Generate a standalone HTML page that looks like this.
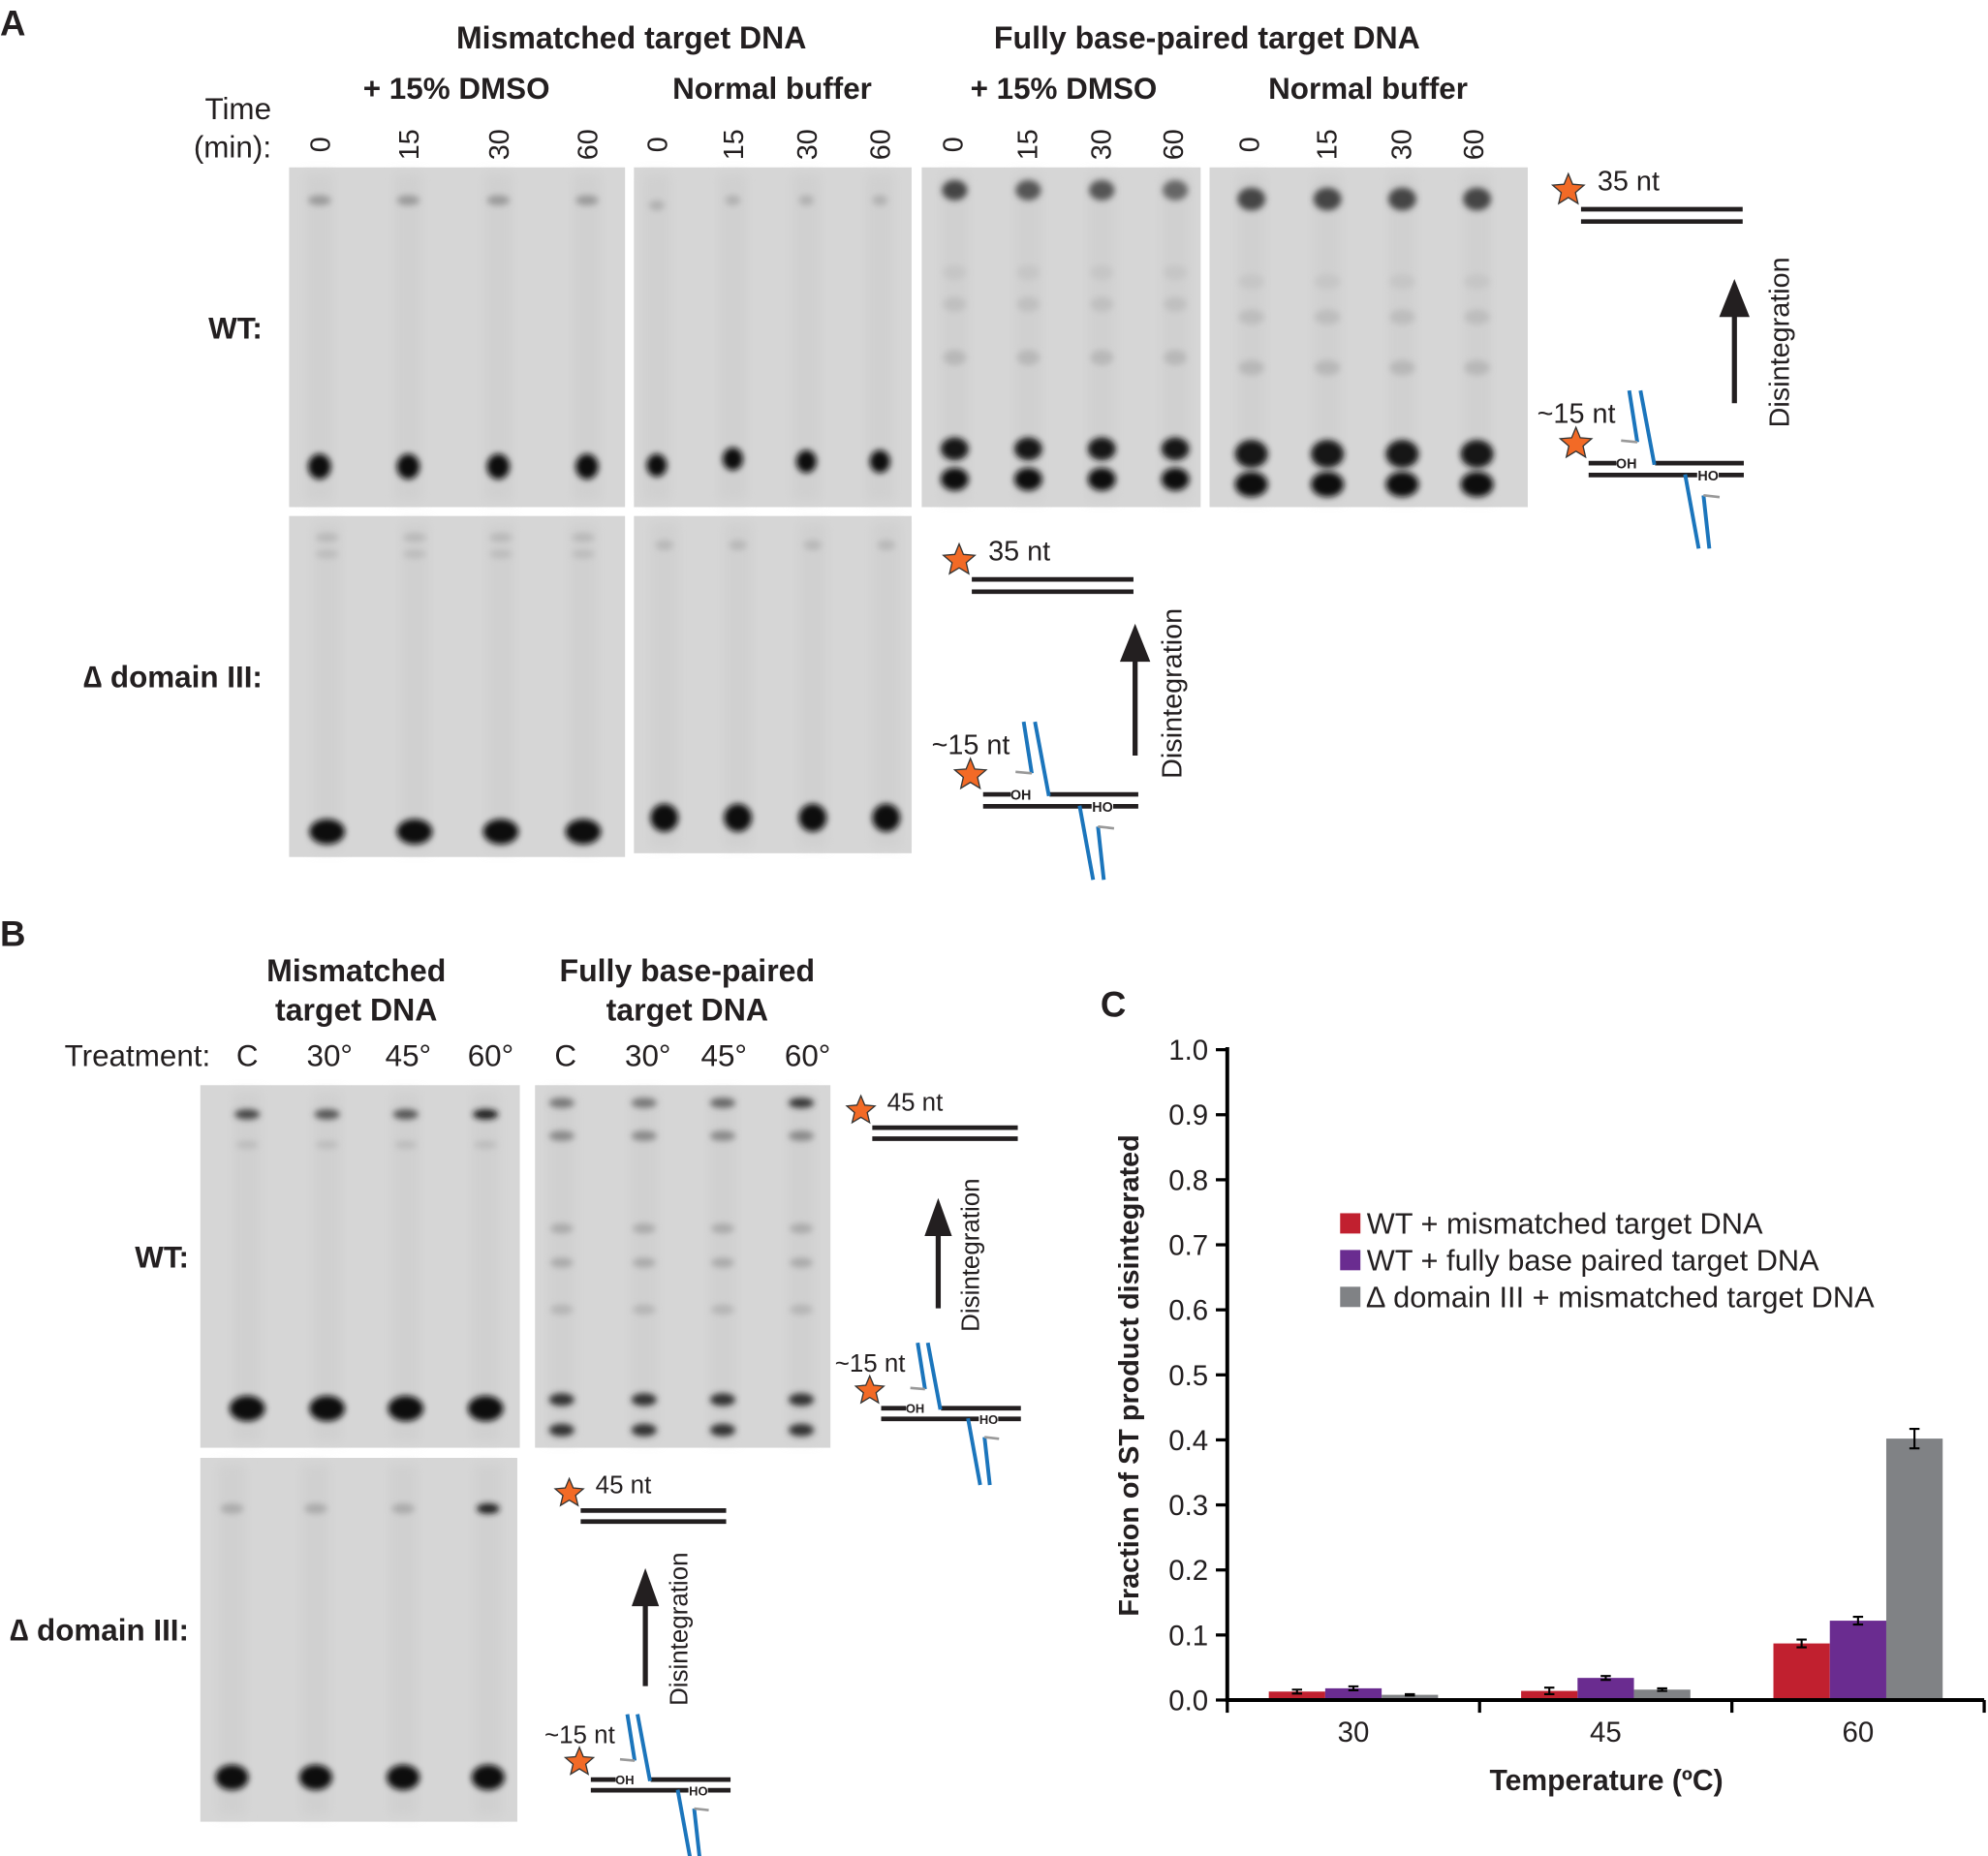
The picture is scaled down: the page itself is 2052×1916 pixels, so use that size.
<!DOCTYPE html>
<html><head><meta charset="utf-8">
<style>
html,body{margin:0;padding:0;background:#fff;}
svg{display:block;font-family:"Liberation Sans",Arial,sans-serif;}
.b{font-weight:bold;}
</style></head>
<body>
<svg id="fig" width="2052" height="1916" viewBox="0 0 1568 1464" xmlns="http://www.w3.org/2000/svg">
<defs>
<filter id="bl1" x="-100%" y="-100%" width="300%" height="300%"><feGaussianBlur stdDeviation="2.5"/></filter>
<filter id="bl2" x="-100%" y="-100%" width="300%" height="300%"><feGaussianBlur stdDeviation="4"/></filter>
</defs>

<g fill="#231f20">
<text x="0" y="28" font-size="28" class="b">A</text>
<text x="498" y="38" font-size="24.5" class="b" text-anchor="middle">Mismatched target DNA</text>
<text x="952" y="38" font-size="24.5" class="b" text-anchor="middle">Fully base-paired target DNA</text>
<text x="360" y="78" font-size="24" class="b" text-anchor="middle">+ 15% DMSO</text>
<text x="609" y="78" font-size="24" class="b" text-anchor="middle">Normal buffer</text>
<text x="839" y="78" font-size="24" class="b" text-anchor="middle">+ 15% DMSO</text>
<text x="1079" y="78" font-size="24" class="b" text-anchor="middle">Normal buffer</text>
<text x="214" y="94" font-size="24" text-anchor="end">Time</text>
<text x="214" y="124" font-size="24" text-anchor="end">(min):</text>
<text x="207" y="267" font-size="24" class="b" text-anchor="end">WT:</text>
<text x="207" y="542" font-size="24" class="b" text-anchor="end">∆ domain III:</text>
</g>
<g id="laneLabelsA"></g>

<g fill="#231f20">
<text x="0" y="746" font-size="28" class="b">B</text>
<text x="281" y="774" font-size="24.5" class="b" text-anchor="middle">Mismatched</text>
<text x="281" y="805" font-size="24.5" class="b" text-anchor="middle">target DNA</text>
<text x="542" y="774" font-size="24.5" class="b" text-anchor="middle">Fully base-paired</text>
<text x="542" y="805" font-size="24.5" class="b" text-anchor="middle">target DNA</text>
<text x="166" y="841" font-size="24" text-anchor="end">Treatment:</text>
<text x="195" y="841" font-size="24" text-anchor="middle">C</text>
<text x="260" y="841" font-size="24" text-anchor="middle">30°</text>
<text x="322" y="841" font-size="24" text-anchor="middle">45°</text>
<text x="387" y="841" font-size="24" text-anchor="middle">60°</text>
<text x="446" y="841" font-size="24" text-anchor="middle">C</text>
<text x="511" y="841" font-size="24" text-anchor="middle">30°</text>
<text x="571" y="841" font-size="24" text-anchor="middle">45°</text>
<text x="637" y="841" font-size="24" text-anchor="middle">60°</text>
<text x="149" y="1000" font-size="24" class="b" text-anchor="end">WT:</text>
<text x="149" y="1294" font-size="24" class="b" text-anchor="end">∆ domain III:</text>
</g>

<g id="gels"></g>
<g id="diagrams"></g>

<g id="chart">
<text x="868" y="802" font-size="28" class="b" fill="#231f20">C</text>
</g>
</svg>

<script>
// ---- Chart data (panel C) ----
const categories = ["30", "45", "60"];
const seriesNames = ["WT + mismatched target DNA", "WT + fully base paired target DNA", "∆ domain III + mismatched target DNA"];
const wtMismatched = [0.013, 0.014, 0.087];
const wtPaired = [0.018, 0.034, 0.122];
const domainMismatched = [0.008, 0.016, 0.402];
const errWtMismatched = [0.003, 0.005, 0.006];
const errWtPaired = [0.003, 0.003, 0.006];
const errDomainMismatched = [0.001, 0.002, 0.015];
const yTicks = ["0.0","0.1","0.2","0.3","0.4","0.5","0.6","0.7","0.8","0.9","1.0"];

const NS = "http://www.w3.org/2000/svg";
function mk(tag, attrs, parent, txt){
  const e = document.createElementNS(NS, tag);
  for (const k in attrs) e.setAttribute(k, attrs[k]);
  if (txt !== undefined) e.textContent = txt;
  parent.appendChild(e);
  return e;
}

const X0 = 968, X1 = 1565, Y0 = 1341, YTOP = 828;
const yScale = v => Y0 - v * (Y0 - YTOP);
const groupW = (X1 - X0) / categories.length;
const xCenter = i => X0 + groupW * (i + 0.5);
const barW = 44.5;

const chart = document.getElementById('chart');
const colors = ["#c1202f", "#6a2c90", "#808285"];
const vals = [wtMismatched, wtPaired, domainMismatched];
const errs = [errWtMismatched, errWtPaired, errDomainMismatched];
const barKeys = ["wt-mismatched", "wt-paired", "domain-mismatched"];

categories.forEach((c, i) => {
  vals.forEach((arr, s) => {
    const x = xCenter(i) + (s - 1.5) * barW;
    const r = mk('rect', {x: x, y: yScale(arr[i]), width: barW, height: Y0 - yScale(arr[i]), fill: colors[s]}, chart);
    
    
    const cx = x + barW / 2, hi = yScale(arr[i] + errs[s][i]), lo = yScale(arr[i] - errs[s][i]);
    const eb = mk('path', {d: `M${cx},${hi}V${lo}M${cx-4},${hi}H${cx+4}M${cx-4},${lo}H${cx+4}`, stroke: "#000", 'stroke-width': 1.6, fill: "none"}, chart);
    
    
  });
});

const yAx = mk('path', {d: `M${X0},${YTOP-2}V${Y0+1}`, stroke: "#000", 'stroke-width': 3, fill: "none"}, chart);


yTicks.forEach((t) => {
  const v = parseFloat(t), y = yScale(v);
  const tk = mk('line', {x1: X0 - 9, x2: X0, y1: y, y2: y, stroke: "#000", 'stroke-width': 2.5}, chart);
  
  
  const lb = mk('text', {x: 953, y: y + 8, 'font-size': 22.5, 'text-anchor': 'end', fill: '#231f20'}, chart, t);
  
  
});
const xAx = mk('path', {d: `M${X0-1.5},${Y0}H${X1}`, stroke: "#000", 'stroke-width': 3, fill: "none"}, chart);


for (let i = 0; i <= categories.length; i++) {
  const x = X0 + groupW * i;
  const tk = mk('line', {x1: x, x2: x, y1: Y0, y2: Y0 + 10, stroke: "#000", 'stroke-width': 2.5}, chart);
  
  
}
categories.forEach((c, i) => {
  const lb = mk('text', {x: xCenter(i), y: 1374, 'font-size': 22.5, 'text-anchor': 'middle', fill: '#231f20'}, chart, c);
  
  
});
const xt = mk('text', {x: 1267, y: 1412, 'font-size': 23, 'font-weight': 'bold', 'text-anchor': 'middle', fill: '#231f20'}, chart, "Temperature (ºC)");


const yt = mk('text', {x: 0, y: 0, 'font-size': 22, 'font-weight': 'bold', 'text-anchor': 'middle', fill: '#231f20', transform: 'translate(898,1085) rotate(-90)'}, chart, "Fraction of ST product disintegrated");


seriesNames.forEach((n, s) => {
  const y = 957 + s * 29;
  const sq = mk('rect', {x: 1057, y: y, width: 16, height: 16, fill: colors[s]}, chart);
  
  
  const tx = mk('text', {x: 1078, y: y + 16, 'font-size': 23.5, fill: '#231f20'}, chart, n);
  
  
});

// ---- Lane labels panel A ----
const laneA = document.getElementById('laneLabelsA');
const laneTimes = ["0","15","30","60"];
const laneXA = [[252,322,393,463],[518,578,636,694],[751,810,868,925],[985,1046,1105,1162]];
laneXA.forEach((xs) => xs.forEach((x, i) => {
  const t = mk('text', {x: 0, y: 0, 'font-size': 22, 'text-anchor': 'middle', fill: '#231f20', transform: `translate(${x+8},114) rotate(-90)`}, laneA, laneTimes[i]);
  
  
}));

// ---- Gels ----
const gels = document.getElementById('gels');
function gel(name, x, y, w, h, lanes, bands){
  const g = mk('g', {}, gels);
  
  
  mk('rect', {x: x, y: y, width: w, height: h, fill: '#d6d6d6'}, g);
  lanes.forEach((lx, li) => {
    mk('rect', {x: lx - 11, y: y + 5, width: 22, height: h - 10, fill: '#d0d0d0', filter: 'url(#bl2)'}, g);
    bands.forEach(b => {
      const dy = (b.dy && b.dy[li]) || 0;
      const col = Array.isArray(b.c) ? b.c[li] : b.c;
      mk('ellipse', {cx: lx, cy: b.y + dy, rx: b.rx, ry: b.ry, fill: col, filter: b.blur || 'url(#bl1)'}, g);
    });
  });
}
gel('gel-a-wt-mismatched-dmso', 228, 132, 265, 268, [252,322,393,463], [
  {y: 158, rx: 9, ry: 4, c: '#9a9a9a'}, {y: 368, rx: 9, ry: 10, c: '#111'}]);
gel('gel-a-wt-mismatched-normal', 500, 132, 219, 268, [518,578,636,694], [
  {y: 158, rx: 6, ry: 4, c: '#b0b0b0', dy: [4,0,0,0]}, {y: 364, rx: 8, ry: 9, c: '#111', dy: [3,-2,0,0]}]);
gel('gel-a-wt-paired-dmso', 727, 132, 220, 268, [753,811,869,927], [
  {y: 150, rx: 10, ry: 8, c: ['#444','#555','#555','#666']}, {y: 215, rx: 9, ry: 6, c: '#c6c6c6'}, {y: 240, rx: 9, ry: 6, c: '#c0c0c0'}, {y: 282, rx: 9, ry: 6, c: '#b8b8b8'},
  {y: 354, rx: 11, ry: 9, c: '#161616'}, {y: 378, rx: 11, ry: 9, c: '#111'}]);
gel('gel-a-wt-paired-normal', 954, 132, 251, 268, [987,1047,1106,1165], [
  {y: 157, rx: 11, ry: 9, c: '#444'}, {y: 222, rx: 10, ry: 6, c: '#c6c6c6'}, {y: 250, rx: 10, ry: 6, c: '#bdbdbd'}, {y: 290, rx: 10, ry: 6, c: '#b8b8b8'},
  {y: 358, rx: 13, ry: 11, c: '#151515'}, {y: 382, rx: 13, ry: 10, c: '#111'}]);
gel('gel-a-domain-mismatched-dmso', 228, 407, 265, 269, [258,327,395,460], [
  {y: 424, rx: 9, ry: 3.5, c: '#b8b8b8'}, {y: 437, rx: 9, ry: 3.5, c: '#bcbcbc'}, {y: 656, rx: 14, ry: 10, c: '#111'}]);
gel('gel-a-domain-mismatched-normal', 500, 407, 219, 266, [524,582,641,699], [
  {y: 430, rx: 7, ry: 4, c: '#b8b8b8'}, {y: 645, rx: 11, ry: 11, c: '#111'}]);
gel('gel-b-wt-mismatched', 158, 856, 252, 286, [195,258,320,383], [
  {y: 879, rx: 10, ry: 4, c: ['#444','#555','#555','#1a1a1a']}, {y: 903, rx: 9, ry: 3, c: '#bbb'}, {y: 1111, rx: 14, ry: 10, c: '#111'}]);
gel('gel-b-wt-paired', 422, 856, 233, 286, [443,508,570,632], [
  {y: 870, rx: 10, ry: 4, c: ['#777','#777','#666','#333']}, {y: 896, rx: 10, ry: 4, c: '#888'}, {y: 969, rx: 9, ry: 4, c: '#aaa'}, {y: 996, rx: 9, ry: 4, c: '#aaa'},
  {y: 1033, rx: 9, ry: 4, c: '#b5b5b5'}, {y: 1104, rx: 10, ry: 5, c: '#333'}, {y: 1128, rx: 10, ry: 5, c: '#333'}]);
gel('gel-b-domain-mismatched', 158, 1150, 250, 287, [183,249,318,385], [
  {y: 1190, rx: 9, ry: 4, c: ['#aaa','#aaa','#aaa','#1a1a1a']}, {y: 1402, rx: 13, ry: 10, c: '#111'}]);

// ---- Diagrams ----
const dg = document.getElementById('diagrams');
function star(parent, cx, cy, r){
  let p = [];
  for (let k = 0; k < 10; k++) {
    const a = -Math.PI/2 + k * Math.PI / 5, rr = k % 2 ? r * 0.45 : r;
    p.push((cx + rr * Math.cos(a)).toFixed(1) + ',' + (cy + rr * Math.sin(a)).toFixed(1));
  }
  const s = mk('polygon', {points: p.join(' '), fill: '#f26a26', stroke: '#333', 'stroke-width': 1}, parent);
  
  
}
function diagram(name, top, bot, sc, arrowX, ay1, ay2, txtX, txtY, label){
  const g = mk('g', {}, dg);
  
  
  const tx = top[0], ty = top[1];
  mk('path', {d: `M${tx+10*sc},${ty+15*sc}H${tx+137.5*sc}M${tx+10*sc},${ty+24.7*sc}H${tx+137.5*sc}`, stroke: '#231f20', 'stroke-width': 3.6, fill: 'none'}, g);
  star(g, tx, ty, 13 * sc);
  const lt = mk('text', {x: tx + 23*sc, y: ty, 'font-size': 22*sc, fill: '#231f20'}, g, label);
  
  
  const bx = bot[0], by = bot[1];
  const P = (dx, dy) => (bx + dx*sc).toFixed(1) + ',' + (by + dy*sc).toFixed(1);
  mk('path', {d: `M${P(10,15.3)}L${P(31.8,15.3)}M${P(62.4,15.3)}L${P(132.4,15.3)}M${P(10,24.7)}L${P(95.6,24.7)}M${P(112.6,24.7)}L${P(132.4,24.7)}`, stroke: '#231f20', 'stroke-width': 3.6, fill: 'none'}, g);
  mk('path', {d: `M${P(42,-42)}L${P(48.4,-1.3)}M${P(50.9,-42)}L${P(61.9,16.6)}M${P(86.1,24.2)}L${P(96.8,82.7)}M${P(100.6,40.7)}L${P(105.2,82.7)}`, stroke: '#1b75bc', 'stroke-width': 3, fill: 'none'}, g);
  mk('path', {d: `M${P(35.6,-2.5)}L${P(48.4,-1.3)}M${P(100.6,40.7)}L${P(113.3,42.1)}`, stroke: '#999', 'stroke-width': 2, fill: 'none'}, g);
  const oh = mk('text', {x: bx + 31.5*sc, y: by + 19.5*sc, 'font-size': 11*sc, 'font-weight': 'bold', fill: '#231f20'}, g, "OH");
  
  
  const ho = mk('text', {x: bx + 96*sc, y: by + 29*sc, 'font-size': 11*sc, 'font-weight': 'bold', fill: '#231f20'}, g, "HO");
  
  
  star(g, bx, by, 13 * sc);
  const st = mk('text', {x: bx - 30.6*sc, y: by - 16.5*sc, 'font-size': 22*sc, fill: '#231f20'}, g, "~15 nt");
  
  
  const ar = mk('path', {d: `M${arrowX},${ay1}V${ay2+25}`, stroke: '#231f20', 'stroke-width': 4, fill: 'none'}, g);
  
  
  mk('polygon', {points: `${arrowX-12*sc},${ay2+30} ${arrowX},${ay2} ${arrowX+12*sc},${ay2+30}`, fill: '#231f20'}, g);
  const dt = mk('text', {x: 0, y: 0, 'font-size': 22*sc, 'text-anchor': 'middle', fill: '#231f20', transform: `translate(${txtX+8},${txtY}) rotate(-90)`}, g, "Disintegration");
  
  
}
diagram('diagram-a-right', [1237,150], [1243,350], 1, 1368, 318, 220, 1403, 270, "35 nt");
diagram('diagram-a-middle', [756.5,442], [765.4,611.3], 1, 895.3, 596, 492, 924, 547, "35 nt");
diagram('diagram-b-right', [679,876], [686,1097], 0.9, 740, 1032, 945, 764, 990, "45 nt");
diagram('diagram-b-lower', [449,1178], [457,1390], 0.9, 509, 1330, 1237, 534, 1285, "45 nt");
</script>
</body></html>
